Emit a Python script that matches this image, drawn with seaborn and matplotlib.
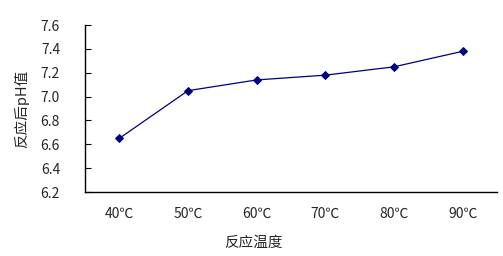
import numpy as np
import pandas as pd
import matplotlib
matplotlib.use('Agg')
import matplotlib.pyplot as plt
import seaborn as sns

# Data
temps = ['40℃', '50℃', '60℃', '70℃', '80℃', '90℃']
ph_values = [6.65, 7.05, 7.14, 7.18, 7.25, 7.38]
y_ticks = [6.2, 6.4, 6.6, 6.8, 7.0, 7.2, 7.4, 7.6]

sns.set_style('white')
plt.rcParams['font.family'] = ['Noto Sans CJK SC', 'DejaVu Sans']

df = pd.DataFrame({'temp': temps, 'ph': ph_values})

fig = plt.figure(figsize=(5.03, 2.56), dpi=100)
ax = fig.add_axes([0.169, 0.25, 0.819, 0.652])

sns.pointplot(data=df, x='temp', y='ph', color='#000080', marker='D',
              markersize=4, linewidth=0.9, ax=ax)

ax.set_xlim(-0.5, len(temps) - 0.5)
ax.set_ylim(6.2, 7.6)
ax.set_yticks(y_ticks)
ax.set_yticklabels(['%.1f' % v for v in y_ticks], fontsize=10)
ax.set_xticklabels(temps, fontsize=10)

# category boundary ticks pointing inward
ax.set_xticks(np.arange(-0.5, len(temps)), minor=True)
ax.tick_params(axis='x', which='major', length=0, pad=11)
ax.tick_params(axis='x', which='minor', direction='in', length=4, width=0.8, color='black')
ax.tick_params(axis='y', which='major', direction='in', length=4, width=0.8, color='black', left=True, pad=18)

for side in ['top', 'right']:
    ax.spines[side].set_visible(False)
for side in ['left', 'bottom']:
    ax.spines[side].set_color('black')
    ax.spines[side].set_linewidth(1.0)

ax.set_xlabel('反应温度', fontsize=10.5)
ax.set_ylabel('反应后pH值', fontsize=10.5)
ax.xaxis.set_label_coords(0.41, -0.26)
ax.yaxis.set_label_coords(-0.135, 0.5)

fig.savefig('out.png', dpi=100)
